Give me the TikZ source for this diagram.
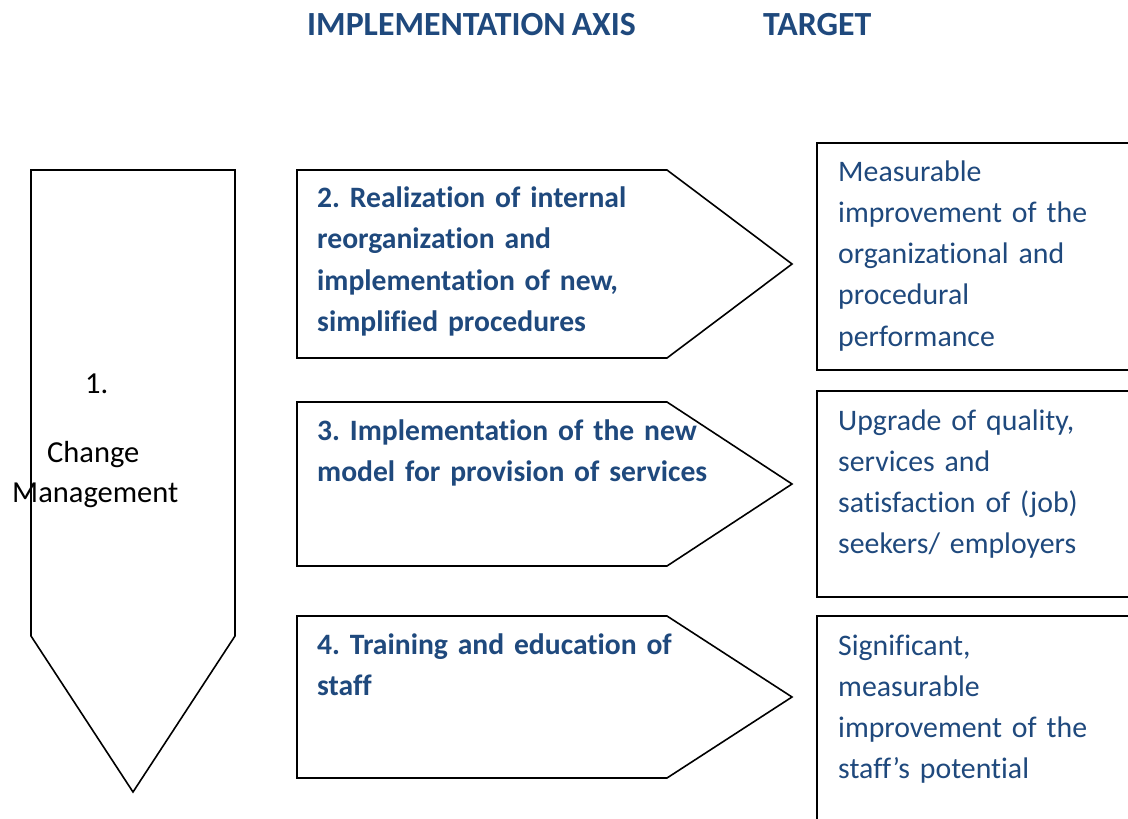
\documentclass[tikz,border=0pt]{standalone}
\usepackage{fontspec}
\setmainfont{Carlito}[Ligatures=NoCommon,WordSpace=0.8]
\definecolor{axisblue}{HTML}{1F497D}
\frenchspacing
\begin{document}
\begin{tikzpicture}[x=1pt,y=-1pt,
  shapeline/.style={draw=black,line width=1.6pt,line join=miter},
  header/.style={font=\fontsize{33.8}{38}\selectfont\bfseries,text=axisblue,inner sep=0,anchor=base west},
  axistext/.style={font=\fontsize{29.6}{41.5}\selectfont\bfseries,text=axisblue,inner sep=0,anchor=base west,align=left,text width=460pt},
  targettext/.style={font=\fontsize{29.8}{41.3}\selectfont,text=axisblue,inner sep=0,anchor=base west,align=left,text width=300pt},
  plaintext/.style={font=\fontsize{30.5}{40}\selectfont,text=black,inner sep=0,anchor=base west}
]
\clip (0,0) rectangle (1128,819);
\fill[white] (0,0) rectangle (1128,819);

% column headings
\node[header] (hAxis) at (307,35) {IMPLEMENTATION AXIS};
\node[header] (hTarget) at (763,35) {TARGET};

% change management: downward pointing arrow
\draw[shapeline] (31,170) -- (235,170) -- (235,636) -- (133,792) -- (31,636) -- cycle;
\node[plaintext] (cmNum) at (85,393) {1.};
\node[plaintext] (cmA) at (47,462) {Change};
\node[plaintext] (cmB) at (12,502) {Management};

% implementation axes: pentagon arrows pointing right
\draw[shapeline] (297,170) -- (667,170) -- (792,264) -- (667,358) -- (297,358) -- cycle;
\draw[shapeline] (297,402) -- (667,402) -- (792,484) -- (667,566) -- (297,566) -- cycle;
\draw[shapeline] (297,616) -- (667,616) -- (792,697) -- (667,778) -- (297,778) -- cycle;

\node[axistext] (ax2) at (317,207) {2. Realization of internal\\reorganization and\\implementation of new,\\simplified procedures};
\node[axistext] (ax3) at (317,440) {3. Implementation of the new\\model for provision of services};
\node[axistext] (ax4) at (317,654) {4. Training and education of\\staff};

% targets
\draw[shapeline] (1140,143) -- (817,143) -- (817,370) -- (1140,370);
\draw[shapeline] (1140,391) -- (817,391) -- (817,597) -- (1140,597);
\draw[shapeline] (1140,616) -- (817,616) -- (817,830);

\node[targettext] (tg1) at (838,181) {Measurable\\improvement of the\\organizational and\\procedural\\performance};
\node[targettext] (tg2) at (838,430) {Upgrade of quality,\\services and\\satisfaction of (job)\\seekers/ employers};
\node[targettext] (tg3) at (838,655) {Significant,\\measurable\\improvement of the\\staff’s potential};
\end{tikzpicture}
\end{document}
